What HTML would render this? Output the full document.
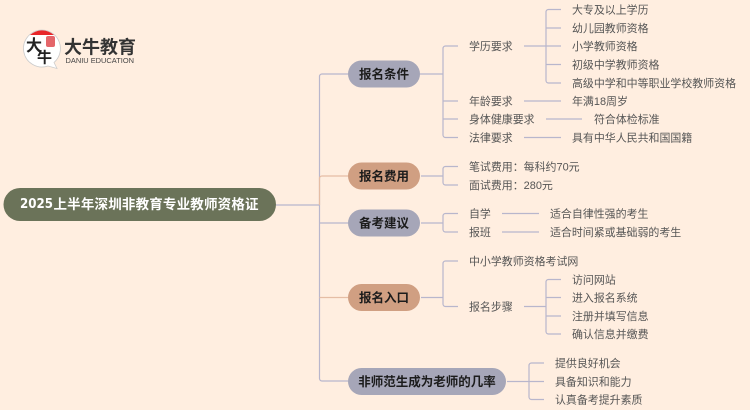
<!DOCTYPE html>
<html><head><meta charset="utf-8"><style>
html,body{margin:0;padding:0;background:#ffeee0;width:750px;height:410px;overflow:hidden}
svg{display:block;filter:blur(.35px)}
text{font-family:"Liberation Sans","Noto Sans CJK SC",sans-serif;dominant-baseline:central}
.l{font-size:10.950px;fill:#555;transform:translateY(.8px)}
.b{font-size:12.500px;font-weight:bold;fill:#1c1c1c;text-anchor:middle;transform:translateY(.5px)}
path{fill:none;stroke:#b8b6cc;stroke-width:1.2}
</style></head><body>
<svg width="750" height="410" viewBox="0 0 750 410" xmlns="http://www.w3.org/2000/svg">
<rect width="750" height="410" fill="#ffeee0"/>
<!-- logo -->
<path d="M42 30a18.500 18.500 0 1 0 6 36l9 2.500-3-6A18.500 18.500 0 0 0 42 30z" style="fill:#fff;stroke:#ccc;stroke-width:.8"/>
<path d="M30 35a18 18 0 0 1 24 0z" style="fill:#e8262a;stroke:none"/>
<rect x="46" y="36" width="9" height="11" rx="2" fill="#e4666a"/>
<text x="26" y="44" style="font-size:16px;fill:#222;font-family:'Noto Sans CJK SC',sans-serif;font-weight:bold">大</text>
<text x="37" y="57" style="font-size:15px;fill:#222;font-family:'Noto Sans CJK SC',sans-serif;font-weight:bold">牛</text>
<text x="64" y="47.500" textLength="72" lengthAdjust="spacingAndGlyphs" style="font-size:18px;font-weight:bold;fill:#333">大牛教育</text>
<text x="65.500" y="60.500" textLength="68.500" lengthAdjust="spacingAndGlyphs" style="font-size:7.500px;fill:#444">DANIU EDUCATION</text>
<!-- trunk -->
<path d="M276 205H319.500M348 74H322a2.500 2.500 0 0 0-2.500 2.500V378.500a2.500 2.500 0 0 0 2.500 2.500H348M319.500 223H348"/>
<path d="M319.500 205V178.500a2.500 2.500 0 0 1 2.500-2.500H348M319.500 297.500H348" style="stroke:#e5bda5"/>
<!-- branch 1 -->
<path d="M420 74H443M458 46H445.500a2.500 2.500 0 0 0-2.500 2.500V135a2.500 2.500 0 0 0 2.500 2.500H458M443 101H458M443 119H458"/>
<path d="M524 46H561M561 9.500H548.500a2.500 2.500 0 0 0-2.500 2.500V80.500a2.500 2.500 0 0 0 2.500 2.500H561M546 28H561M546 64.500H561M524 101H561M546 119H582M524 137.500H561"/>
<!-- branch 2 -->
<path d="M421 176H443M458 166.500H445.500a2.500 2.500 0 0 0-2.500 2.500V182.500a2.500 2.500 0 0 0 2.500 2.500H458"/>
<!-- branch 3 -->
<path d="M421 223H443M458 213.500H445.500a2.500 2.500 0 0 0-2.500 2.500V229.500a2.500 2.500 0 0 0 2.500 2.500H458M502 213.500H539M502 232H539"/>
<!-- branch 4 -->
<path d="M421 297.500H443M458 261H445.500a2.500 2.500 0 0 0-2.500 2.500V304a2.500 2.500 0 0 0 2.500 2.500H458M524 306.500H546M561 279.500H548.500a2.500 2.500 0 0 0-2.500 2.500V331.500a2.500 2.500 0 0 0 2.500 2.500H561M546 297.500H561M546 316H561"/>
<!-- branch 5 -->
<path d="M507 381.500H529M544 363H531.500a2.500 2.500 0 0 0-2.500 2.500V397a2.500 2.500 0 0 0 2.500 2.500H544M529 381.500H544"/>
<!-- pills -->
<rect x="3.500" y="188" width="272.500" height="33" rx="16.500" fill="#6b7359"/>
<text x="20" y="204.500" textLength="33" lengthAdjust="spacingAndGlyphs" style="font-family:'DejaVu Sans',sans-serif;font-size:13px;font-weight:bold;fill:#fff">2025</text>
<text x="53.500" y="204.500" textLength="205" lengthAdjust="spacing" style="font-size:13.500px;font-weight:bold;fill:#fff">上半年深圳非教育专业教师资格证</text>
<rect x="348" y="60.500" width="72" height="27" rx="13.500" fill="#a6a6b8"/><text class="b" x="384" y="74">报名条件</text>
<rect x="348" y="162.500" width="72" height="27" rx="13.500" fill="#d09f82"/><text class="b" x="384" y="176">报名费用</text>
<rect x="348" y="209.500" width="72" height="27" rx="13.500" fill="#a6a6b8"/><text class="b" x="384" y="223">备考建议</text>
<rect x="348" y="284" width="72" height="27" rx="13.500" fill="#d09f82"/><text class="b" x="384" y="297.500">报名入口</text>
<rect x="348" y="368" width="158" height="27" rx="13.500" fill="#a6a6b8"/><text class="b" x="427" y="381.500">非师范生成为老师的几率</text>
<!-- labels -->
<text class="l" x="469" y="46">学历要求</text>
<text class="l" x="469" y="101">年龄要求</text>
<text class="l" x="469" y="119">身体健康要求</text>
<text class="l" x="469" y="137.500">法律要求</text>
<text class="l" x="572" y="9.500">大专及以上学历</text>
<text class="l" x="572" y="28">幼儿园教师资格</text>
<text class="l" x="572" y="46">小学教师资格</text>
<text class="l" x="572" y="64.500">初级中学教师资格</text>
<text class="l" x="572" y="83">高级中学和中等职业学校教师资格</text>
<text class="l" x="572" y="101">年满18周岁</text>
<text class="l" x="594" y="119">符合体检标准</text>
<text class="l" x="572" y="137.500">具有中华人民共和国国籍</text>
<text class="l" x="469" y="166.500">笔试费用：每科约70元</text>
<text class="l" x="469" y="185">面试费用：280元</text>
<text class="l" x="469" y="213.500">自学</text>
<text class="l" x="469" y="232">报班</text>
<text class="l" x="550" y="213.500">适合自律性强的考生</text>
<text class="l" x="550" y="232">适合时间紧或基础弱的考生</text>
<text class="l" x="469" y="261">中小学教师资格考试网</text>
<text class="l" x="469" y="306.500">报名步骤</text>
<text class="l" x="572" y="279.500">访问网站</text>
<text class="l" x="572" y="297.500">进入报名系统</text>
<text class="l" x="572" y="316">注册并填写信息</text>
<text class="l" x="572" y="334">确认信息并缴费</text>
<text class="l" x="555" y="363">提供良好机会</text>
<text class="l" x="555" y="381.500">具备知识和能力</text>
<text class="l" x="555" y="399.500">认真备考提升素质</text>
</svg>
</body></html>
